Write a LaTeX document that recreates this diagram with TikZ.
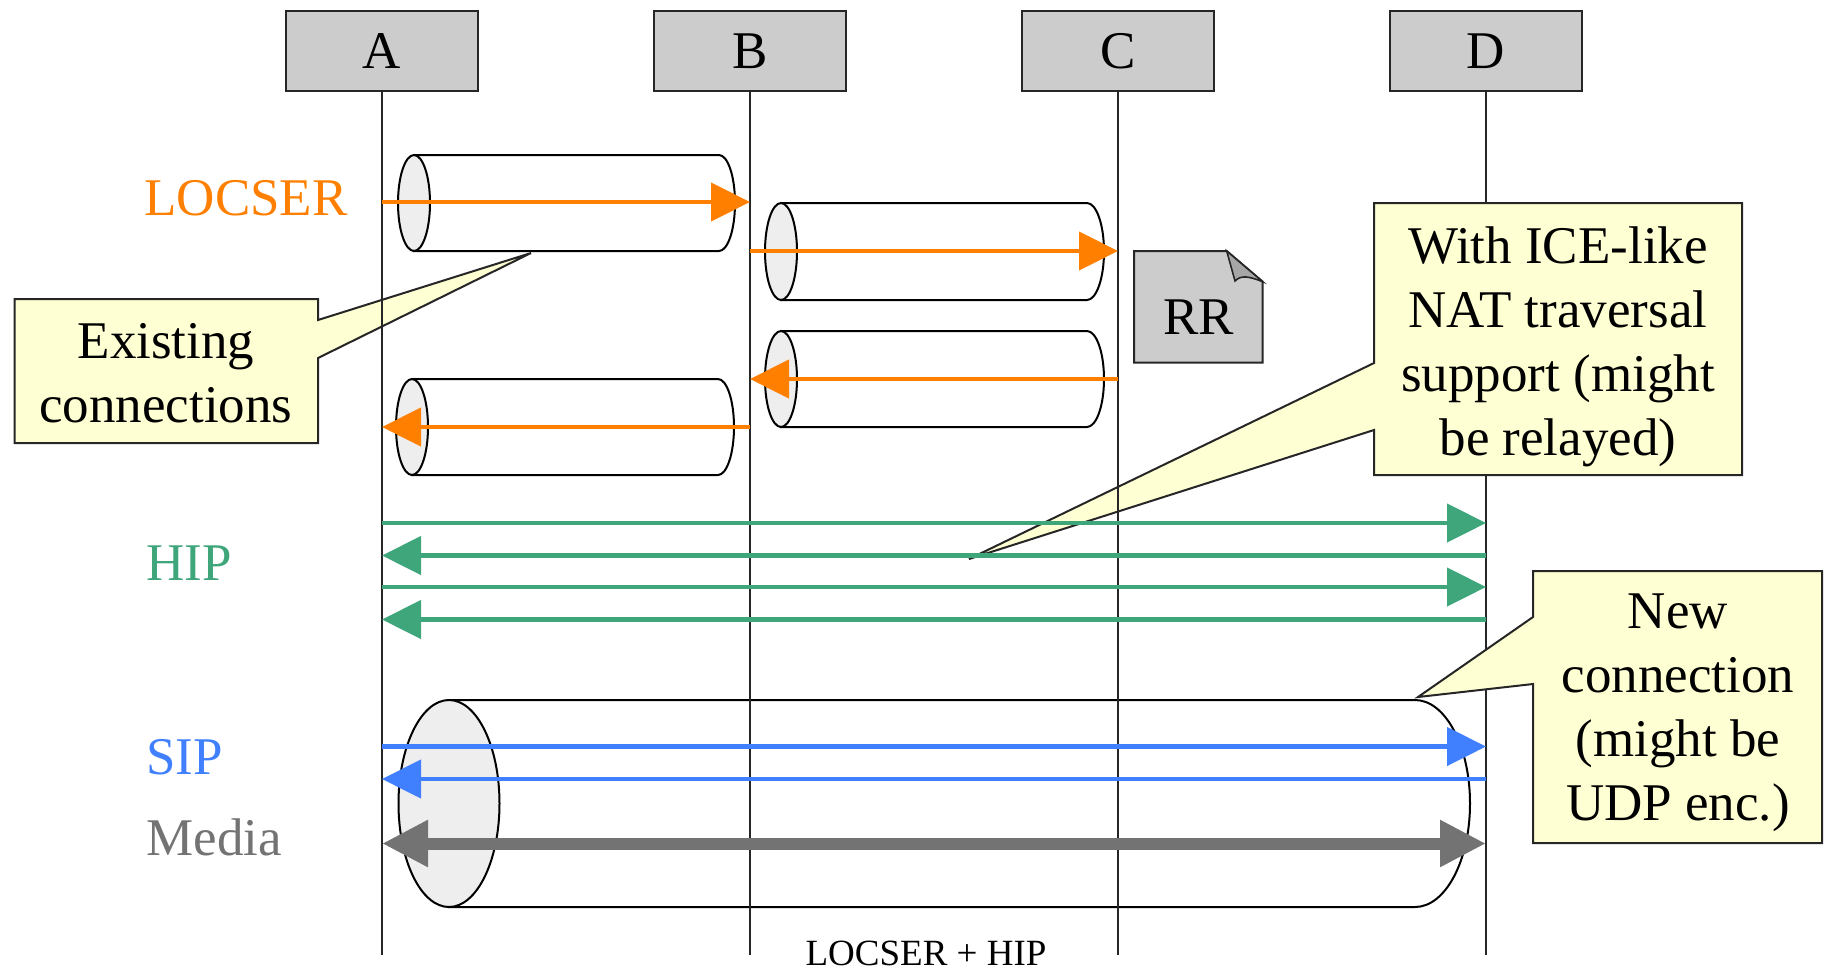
\documentclass[tikz,border=0pt]{standalone}
\usepackage{fontspec}
\setmainfont{Liberation Serif}
\usetikzlibrary{arrows.meta}
\definecolor{locser}{HTML}{FF8000}
\definecolor{hipc}{HTML}{3EA67A}
\definecolor{sipc}{HTML}{4080FF}
\definecolor{mediac}{HTML}{737373}
\definecolor{hostgray}{HTML}{CCCCCC}
\definecolor{calloutc}{HTML}{FFFFD4}
\definecolor{endgray}{HTML}{EEEEEE}
\definecolor{flapgray}{HTML}{A6A6A6}
\newcommand\drawcyl[6]{%
  \pgfmathsetmacro\cylry{(#4-#3)/2}%
  \pgfmathsetmacro\cylcy{(#4+#3)/2}%
  \draw[cylbody] (#1,#3) -- (#2,#3) arc[start angle=-90,end angle=90,x radius=#6,y radius=\cylry] -- (#1,#4) -- cycle;
  \draw[cylend] (#1,\cylcy) ellipse[x radius=#5, y radius=\cylry];
}
\begin{document}
\begin{tikzpicture}[x=0.5pt,y=-0.5pt,
  bigfont/.style={font=\fontsize{26.5}{32}\selectfont},
  host/.style={draw=black!85, fill=hostgray, line width=1pt, minimum width=96.25pt, minimum height=40pt, inner sep=0pt, bigfont},
  life/.style={line width=0.75pt, black!85},
  msg/.style={line width=2.25pt, -{Triangle[length=19.5pt,width=19pt]}},
  medarrow/.style={line width=6pt, mediac, {Triangle[length=23pt,width=22pt]}-{Triangle[length=23pt,width=22pt]}},
  cylbody/.style={draw=black, fill=white, line width=1pt},
  cylend/.style={draw=black, fill=endgray, line width=1pt},
  callbox/.style={draw=black!85, fill=calloutc, line width=1pt, line join=miter},
  calltext/.style={bigfont, align=center, inner sep=0pt},
  proto/.style={bigfont, anchor=base west, inner sep=0pt},
]
\useasboundingbox (0,0) rectangle (1830,971);

% hosts
\node[host] (nA) at (382,51) {A};
\node[host] (nB) at (750,51) {B};
\node[host] (nC) at (1118,51) {C};
\node[host] (nD) at (1486,51) {D};
\coordinate (bot) at (0,955);

% lifeline D (behind callouts)
\draw[life] (nD.south) -- (nD.south |- bot);

% cylinders
\drawcyl{414}{719}{155}{251}{16}{16}
\drawcyl{781}{1087}{203}{300}{16}{17}
\drawcyl{781}{1087}{331}{427}{16}{17}
\drawcyl{412}{718}{379}{475}{16}{16}
\drawcyl{449}{1415}{700}{907}{50.5}{55}

% RR note
\draw[draw=black!85, fill=hostgray, line width=1pt] (1134,251) -- (1226.7,251) -- (1262.7,281.7) -- (1262.7,362.7) -- (1134,362.7) -- cycle;
\draw[draw=black!85, fill=flapgray, line width=0.8pt] (1226.7,251) -- (1235,281) .. controls (1241,275) and (1248,276) .. (1262.7,281.7) -- cycle;
\node[bigfont, inner sep=0pt] (tRR) at (1198.5,317) {RR};

% callouts
\draw[callbox] (14.6,299) -- (318,299) -- (318,320) -- (531,253) -- (318,358) -- (318,443) -- (14.6,443) -- cycle;
\draw[callbox] (1374,203) -- (1742,203) -- (1742,475) -- (1374,475) -- (1374,430) -- (969,559) -- (1374,363) -- cycle;
\draw[callbox] (1533,571) -- (1822,571) -- (1822,843) -- (1533,843) -- (1533,684) -- (1418,697) -- (1533,617) -- cycle;

\node[calltext] (tExist) at (166,373) {Existing\\connections};
\node[calltext] (tIce) at (1558,347) {With ICE-like\\NAT traversal\\support (might\\be relayed)};
\node[calltext] (tNew) at (1678,713) {New\\connection\\(might be\\UDP enc.)};

% lifelines A, B, C
\draw[life] (nA.south) -- (nA.south |- bot);
\draw[life] (nB.south) -- (nB.south |- bot);
\draw[life] (nC.south) -- (nC.south |- bot);

% message rows
\coordinate (y1) at (0,202);
\coordinate (y2) at (0,251);
\coordinate (y3) at (0,379);
\coordinate (y4) at (0,427);
\coordinate (h1) at (0,523);
\coordinate (h2) at (0,555.5);
\coordinate (h3) at (0,587);
\coordinate (h4) at (0,619.5);
\coordinate (s1) at (0,746.5);
\coordinate (s2) at (0,779);
\coordinate (m1) at (0,843.5);

\draw[msg, locser] (nA |- y1) -- (nB |- y1);
\draw[msg, locser] (nB |- y2) -- (nC |- y2);
\draw[msg, locser] (nC |- y3) -- (nB |- y3);
\draw[msg, locser] (nB |- y4) -- (nA |- y4);

\draw[msg, hipc] (nA |- h1) -- (nD |- h1);
\draw[msg, hipc] (nD |- h2) -- (nA |- h2);
\draw[msg, hipc] (nA |- h3) -- (nD |- h3);
\draw[msg, hipc] (nD |- h4) -- (nA |- h4);

\draw[msg, sipc] (nA |- s1) -- (nD |- s1);
\draw[msg, sipc] (nD |- s2) -- (nA |- s2);

\draw[medarrow] (nA |- m1) -- (nD |- m1);

% protocol labels
\node[proto, text=locser] (tLoc) at (144,215) {LOCSER};
\node[proto, text=hipc] (tHip) at (146,580) {HIP};
\node[proto, text=sipc] (tSip) at (146,774) {SIP};
\node[proto, text=mediac] (tMed) at (146,855) {Media};

\node[font=\fontsize{18.5}{22}\selectfont, anchor=base, inner sep=0pt] (tBot) at (926,965.5) {LOCSER + HIP};
\end{tikzpicture}
\end{document}
